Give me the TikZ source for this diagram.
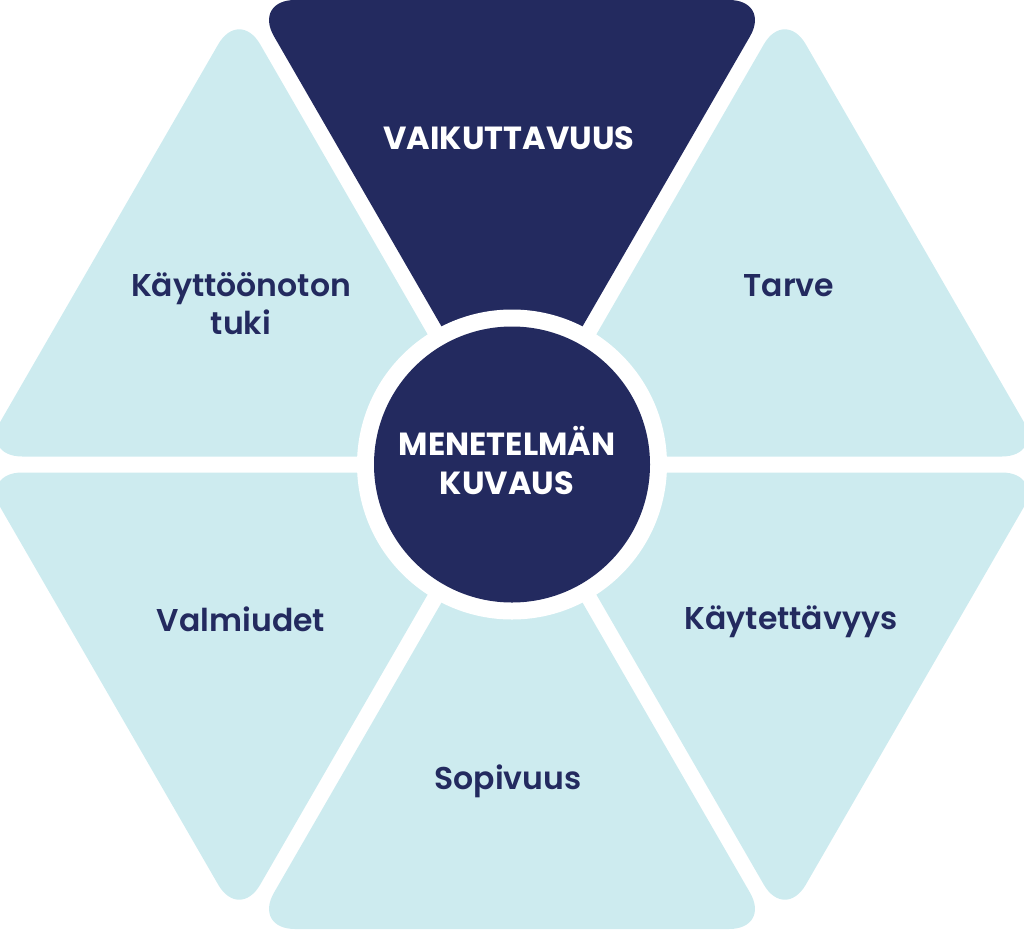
\documentclass[tikz,border=0pt]{standalone}
\usepackage{fontspec}
\setmainfont{Poppins SemiBold}
\newfontfamily\capsfont{Poppins Bold}
\definecolor{navy}{RGB}{35,42,95}
\definecolor{pale}{RGB}{205,235,239}

\tikzset{
  tri/.style={fill=pale, rounded corners=42pt},
  tridark/.style={fill=navy, rounded corners=42pt},
  lbl/.style={text=navy, anchor=base, align=center, inner sep=0pt,
    font=\fontsize{31.5}{38}\selectfont},
  lblcaps/.style={text=white, anchor=base, align=center, inner sep=0pt,
    font=\capsfont\fontsize{32}{38.5}\selectfont}
}

\begin{document}
\begin{tikzpicture}[x=1pt, y=-1pt]

  \useasboundingbox (0,0) rectangle (1024,929);

  \coordinate (mid) at (512,464.5);

  %% six triangles round the middle
  \fill[tridark] (253.0,0) -- (771.0,0) -- (512,448.5) -- cycle;           %% top
  \fill[tri] (784.8,8) -- (1043.8,456.5) -- (525.9,456.5) -- cycle;        %% upper right
  \fill[tri] (1043.8,472.5) -- (784.8,921) -- (525.9,472.5) -- cycle;      %% lower right
  \fill[tri] (771.0,929) -- (253.0,929) -- (512,480.5) -- cycle;           %% bottom
  \fill[tri] (239.2,921) -- (-19.8,472.5) -- (498.1,472.5) -- cycle;       %% lower left
  \fill[tri] (-19.8,456.5) -- (239.2,8) -- (498.1,456.5) -- cycle;         %% upper left

  %% middle circle
  \fill[white] (mid) circle (155);
  \node[circle, fill=navy, minimum size=276pt, inner sep=0pt] (core) at (mid) {};
  \node[lblcaps] (coretext) at (507,494) {MENETELMÄN\\KUVAUS};

  \node[lblcaps] (vaik) at (509,149.5) {VAIKUTTAVUUS};
  \node[lbl] (tarve) at (789,296) {Tarve};
  \node[lbl] (kayt) at (791,629) {Käytettävyys};
  \node[lbl] (sopi) at (508,789) {Sopivuus};
  \node[lbl] (valm) at (241,631) {Valmiudet};
  \node[lbl] (tuki) at (241,334) {Käyttöönoton\\tuki};

\end{tikzpicture}
\end{document}
